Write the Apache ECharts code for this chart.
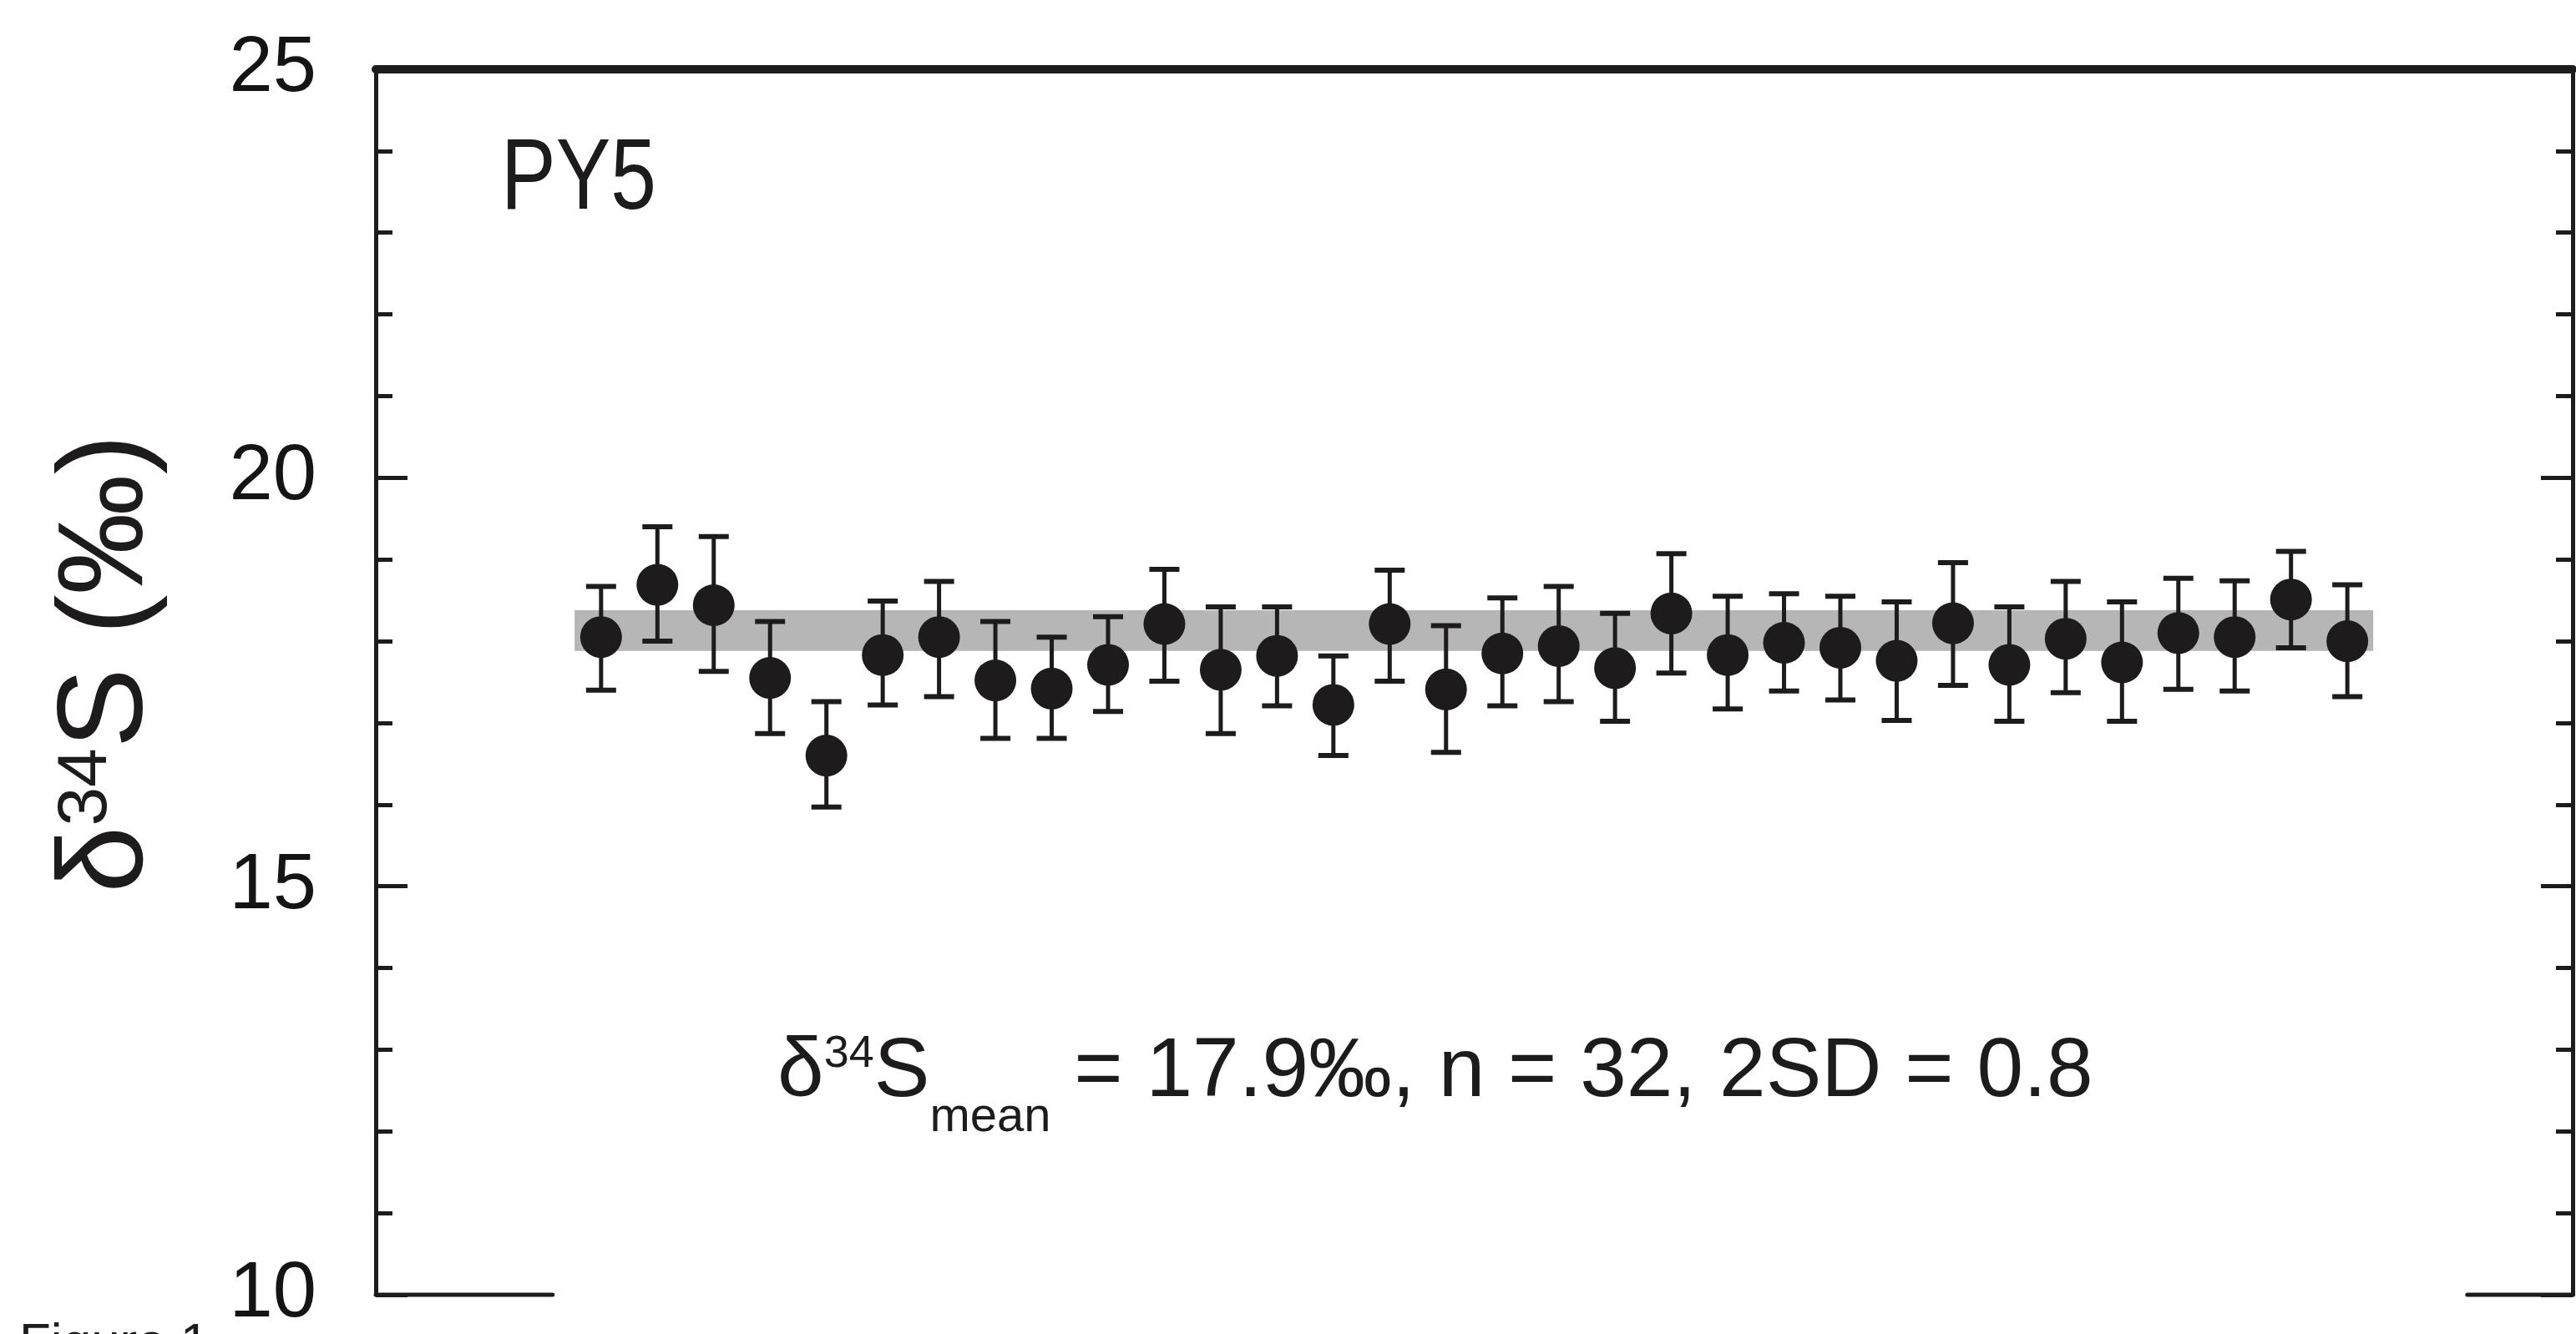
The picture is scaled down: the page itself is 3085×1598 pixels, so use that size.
<!DOCTYPE html>
<html>
<head>
<meta charset="utf-8">
<title>PY5 d34S</title>
<script src="https://cdn.jsdelivr.net/npm/echarts@6/dist/echarts.min.js"></script>
<style>
  html, body { margin: 0; padding: 0; background: #fff; }
  #chart { width: 3085px; height: 1598px; }
</style>
</head>
<body>
<div id="chart"></div>
<script>
// analysis number 1..32, d34S value and error bar ends (permil)
const sampleNo = [1, 2, 3, 4, 5, 6, 7, 8, 9, 10, 11, 12, 13, 14, 15, 16,
  17, 18, 19, 20, 21, 22, 23, 24, 25, 26, 27, 28, 29, 30, 31, 32]
const d34S = [18.05, 18.69, 18.44, 17.55, 16.60, 17.83, 18.05, 17.52, 17.42, 17.71, 18.21, 17.65,
  17.82, 17.22, 18.21, 17.41, 17.85, 17.94, 17.67, 18.34, 17.83, 17.98, 17.92, 17.76,
  18.22, 17.71, 18.03, 17.74, 18.10, 18.05, 18.51, 18.00]
const errUpper = [18.67, 19.40, 19.28, 18.24, 17.26, 18.49, 18.73, 18.24, 18.05, 18.30, 18.88, 18.42,
  18.42, 17.82, 18.87, 18.19, 18.53, 18.67, 18.34, 19.07, 18.55, 18.58, 18.55, 18.48,
  18.96, 18.42, 18.73, 18.48, 18.77, 18.74, 19.10, 18.69]
const errLower = [17.40, 18.00, 17.63, 16.87, 15.97, 17.22, 17.32, 16.81, 16.81, 17.14, 17.51, 16.87,
  17.21, 16.60, 17.51, 16.64, 17.21, 17.26, 17.02, 17.61, 17.17, 17.39, 17.28, 17.03,
  17.46, 17.02, 17.37, 17.02, 17.41, 17.39, 17.92, 17.32]

// grey band (mean +/- ) and its x extent
const bandX = [0.53, 32.46]
const bandY = [17.88, 18.38]

// axis ranges and ticks
const xRange = [-3, 36]
const yRange = [10, 25]
const yInterval = 5
const yTicks = [10, 15, 20, 25]
// bottom frame is only drawn at both ends
const bottomSegments = [[-3, 0.14], [34.13, 36]]

const ink = '#1e1b1c'
const font = '"Liberation Sans", Arial, Helvetica, sans-serif'

const chart = echarts.init(document.getElementById('chart'), null, { renderer: 'canvas' })

const pointData = sampleNo.map((n, i) => [n, d34S[i]])
const errData = sampleNo.map((n, i) => [n, errLower[i], errUpper[i]])

const yAxisBase = {
  type: 'value',
  min: yRange[0],
  max: yRange[1],
  interval: yInterval,
  splitLine: { show: false },
  axisLine: { show: true, onZero: false, lineStyle: { color: ink, width: 5 } },
  axisTick: { show: true, inside: true, length: 38, lineStyle: { color: ink, width: 5 } },
  minorTick: { show: true, splitNumber: 5, length: 20, lineStyle: { color: ink, width: 5 } }
}

chart.setOption({
  animation: false,
  backgroundColor: '#ffffff',
  grid: { left: 450, right: 4, top: 83, bottom: 32 },
  xAxis: {
    type: 'value',
    position: 'top',
    min: xRange[0],
    max: xRange[1],
    axisLine: { show: true, onZero: false, lineStyle: { color: ink, width: 10 } },
    axisTick: { show: false },
    axisLabel: { show: false },
    splitLine: { show: false }
  },
  yAxis: [
    Object.assign({}, yAxisBase, {
      position: 'left',
      axisLabel: {
        show: true,
        margin: 71,
        fontSize: 94,
        fontFamily: font,
        color: '#151314',
        padding: [0, 0, 28, 0],
        showMinLabel: true,
        showMaxLabel: true,
        formatter: v => (yTicks.indexOf(v) >= 0 ? String(v) : '')
      }
    }),
    Object.assign({}, yAxisBase, {
      position: 'right',
      axisLabel: { show: false }
    })
  ],
  series: [
    {
      // grey band behind the points
      type: 'custom',
      z: 1,
      silent: true,
      data: [[bandX[0], bandY[0], bandX[1], bandY[1]]],
      renderItem: function (params, api) {
        const p0 = api.coord([api.value(0), api.value(3)])
        const p1 = api.coord([api.value(2), api.value(1)])
        return {
          type: 'rect',
          shape: { x: p0[0], y: p0[1], width: p1[0] - p0[0], height: p1[1] - p0[1] },
          style: { fill: '#b6b6b6' }
        }
      }
    },
    {
      // error bars
      type: 'custom',
      z: 2,
      silent: true,
      data: errData,
      encode: { x: 0, y: [1, 2] },
      renderItem: function (params, api) {
        const lo = api.coord([api.value(0), api.value(1)])
        const hi = api.coord([api.value(0), api.value(2)])
        const half = 18
        const st = { stroke: ink, lineWidth: 5 }
        return {
          type: 'group',
          children: [
            { type: 'line', shape: { x1: hi[0], y1: hi[1], x2: lo[0], y2: lo[1] }, style: st },
            { type: 'line', shape: { x1: hi[0] - half, y1: hi[1], x2: hi[0] + half, y2: hi[1] }, style: { stroke: ink, lineWidth: 6 } },
            { type: 'line', shape: { x1: lo[0] - half, y1: lo[1], x2: lo[0] + half, y2: lo[1] }, style: { stroke: ink, lineWidth: 6 } }
          ]
        }
      }
    },
    {
      type: 'scatter',
      z: 3,
      symbol: 'circle',
      symbolSize: 50,
      itemStyle: { color: ink, opacity: 1 },
      data: pointData
    },
    {
      // broken bottom frame
      type: 'custom',
      z: 4,
      silent: true,
      clip: false,
      data: bottomSegments,
      renderItem: function (params, api) {
        const a = api.coord([api.value(0), yRange[0]])
        const b = api.coord([api.value(1), yRange[0]])
        return {
          type: 'line',
          shape: { x1: a[0], y1: a[1], x2: b[0], y2: b[1] },
          style: { stroke: ink, lineWidth: 5, lineCap: 'round' }
        }
      }
    }
  ],
  graphic: [
    {
      type: 'text',
      x: 600,
      y: 217,
      scaleX: 0.82,
      style: {
        text: 'PY5',
        fontSize: 120,
        fontFamily: font,
        fill: ink,
        align: 'left',
        verticalAlign: 'middle'
      }
    },
    {
      type: 'text',
      x: 931,
      y: 1285,
      style: {
        text: '{m|δ}{sup|34}{m|S}{sub|mean}{m| = 17.9‰, n = 32, 2SD = 0.8}',
        fontFamily: font,
        fill: ink,
        align: 'left',
        verticalAlign: 'middle',
        rich: {
          m: { fontSize: 100, fontFamily: font, fill: ink },
          sup: { fontSize: 54, fontFamily: font, fill: ink, padding: [0, 0, 44, 0] },
          sub: { fontSize: 58, fontFamily: font, fill: ink, padding: [108, 0, 0, 0] }
        }
      }
    },
    {
      // y axis title
      type: 'text',
      x: 130,
      y: 795,
      rotation: Math.PI / 2,
      style: {
        text: '{m|δ}{sup|34}{m|S (‰)}',
        fontFamily: font,
        fill: ink,
        align: 'center',
        verticalAlign: 'middle',
        rich: {
          m: { fontSize: 144, fontFamily: font, fill: ink },
          sup: { fontSize: 84, fontFamily: font, fill: ink, padding: [0, 0, 52, 0] }
        }
      }
    },
    {
      type: 'text',
      x: 23,
      y: 1580,
      style: {
        text: 'Figure 1',
        fontSize: 62,
        fontFamily: font,
        fill: ink,
        align: 'left',
        verticalAlign: 'top'
      }
    }
  ]
})
</script>
</body>
</html>
